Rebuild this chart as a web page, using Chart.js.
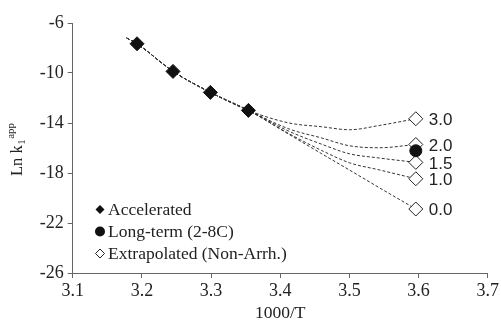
<!DOCTYPE html>
<html>
<head>
<meta charset="utf-8">
<script src="https://cdn.jsdelivr.net/npm/chart.js@4/dist/chart.umd.min.js"></script>
<style>
  html, body { margin: 0; padding: 0; background: #fff; }
  #wrap { width: 501px; height: 325px; }
</style>
</head>
<body>
<div id="wrap"><canvas id="chart"></canvas></div>
<script>
const xTicks = [3.1, 3.2, 3.3, 3.4, 3.5, 3.6, 3.7];
const yTicks = [-26, -22, -18, -14, -10, -6];

// accelerated study (1000/T vs ln k)
const accelX = [3.193, 3.245, 3.299, 3.354];
const accelY = [-7.66, -9.87, -11.55, -12.99];

// long-term 2-8C result
const longTermX = [3.596];
const longTermY = [-16.22];

// extrapolated values at 5C, one per curvature term
const curvature = ['3.0', '2.0', '1.5', '1.0', '0.0'];
const extrapX = 3.596;
const extrapY = [-13.66, -15.72, -17.15, -18.46, -20.88];

// fitted curves
const fitX = [3.178, 3.193, 3.245, 3.299, 3.354, 3.413, 3.46, 3.5, 3.543, 3.596];
const fit30 = [-7.2, -7.66, -9.87, -11.55, -12.99, -14.0, -14.3, -14.54, -14.2, -13.66];
const fit20 = [-7.2, -7.66, -9.87, -11.55, -12.99, -14.48, -15.2, -15.82, -15.98, -15.72];
const fit15 = [-7.2, -7.66, -9.87, -11.55, -12.99, -14.67, -15.7, -16.46, -16.8, -17.15];
const fit10 = [-7.2, -7.66, -9.87, -11.55, -12.99, -14.86, -16.2, -17.18, -17.75, -18.46];
const fit00 = [-7.2, -7.66, -9.87, -11.55, -12.99, -14.92, -16.46, -17.76, -19.17, -20.88];

const legendLabels = ['Accelerated', 'Long-term (2-8C)', 'Extrapolated (Non-Arrh.)'];

const serif = '"Liberation Serif", "Times New Roman", serif';
const sans = '"Liberation Sans", Arial, sans-serif';

const toPoints = (xs, ys) => xs.map((v, i) => ({ x: v, y: ys[i] }));

const curveSet = (ys) => ({
  data: toPoints(fitX, ys),
  showLine: true,
  borderColor: '#333',
  borderWidth: 1,
  borderDash: [3, 2],
  pointRadius: 0,
  cubicInterpolationMode: 'monotone',
  order: 4
});

const extras = {
  id: 'extras',
  afterDatasetsDraw(chart) {
    const { ctx, scales: { x, y } } = chart;
    ctx.save();

    // curvature labels beside the open diamonds
    ctx.fillStyle = '#222';
    ctx.font = '17px ' + sans;
    ctx.textBaseline = 'middle';
    ctx.textAlign = 'left';
    curvature.forEach((c, i) => {
      ctx.fillText(c, x.getPixelForValue(extrapX) + 13, y.getPixelForValue(extrapY[i]) + 1.5);
    });

    // legend
    ctx.font = '17.5px ' + serif;
    const lx = 100, ly = [209.5, 231.5, 253.5];
    ctx.fillStyle = '#111';
    ctx.beginPath();
    ctx.moveTo(lx - 4.5, ly[0]); ctx.lineTo(lx, ly[0] - 4.5);
    ctx.lineTo(lx + 4.5, ly[0]); ctx.lineTo(lx, ly[0] + 4.5);
    ctx.closePath(); ctx.fill();
    ctx.beginPath();
    ctx.arc(lx, ly[1], 5, 0, Math.PI * 2);
    ctx.fill();
    ctx.strokeStyle = '#222';
    ctx.lineWidth = 1;
    ctx.beginPath();
    ctx.moveTo(lx - 4.5, ly[2]); ctx.lineTo(lx, ly[2] - 4.5);
    ctx.lineTo(lx + 4.5, ly[2]); ctx.lineTo(lx, ly[2] + 4.5);
    ctx.closePath(); ctx.stroke();
    ctx.fillStyle = '#222';
    legendLabels.forEach((t, i) => ctx.fillText(t, lx + 8, ly[i] + 1));

    // y axis title: Ln k_1^app
    ctx.translate(22, 176);
    ctx.rotate(-Math.PI / 2);
    ctx.textBaseline = 'alphabetic';
    ctx.font = '16.5px ' + serif;
    ctx.fillText('Ln k', 0, 0);
    let w = ctx.measureText('Ln k').width;
    ctx.font = '11px ' + serif;
    ctx.fillText('1', w + 0.5, 3);
    w += ctx.measureText('1').width + 1;
    ctx.fillText('app', w, -8);
    ctx.restore();
  }
};

new Chart(document.getElementById('chart'), {
  type: 'scatter',
  data: {
    datasets: [
      {
        label: legendLabels[1],
        data: toPoints(longTermX, longTermY),
        pointStyle: 'circle',
        pointRadius: 6,
        backgroundColor: '#111',
        borderColor: '#111',
        borderWidth: 1,
        order: 1
      },
      {
        label: legendLabels[0],
        data: toPoints(accelX, accelY),
        pointStyle: 'rectRot',
        pointRadius: 7,
        backgroundColor: '#111',
        borderColor: '#111',
        borderWidth: 1,
        order: 2
      },
      {
        label: legendLabels[2],
        data: extrapY.map(v => ({ x: extrapX, y: v })),
        pointStyle: 'rectRot',
        pointRadius: 7,
        backgroundColor: '#fff',
        borderColor: '#222',
        borderWidth: 1,
        order: 3
      },
      curveSet(fit30),
      curveSet(fit20),
      curveSet(fit15),
      curveSet(fit10),
      curveSet(fit00)
    ]
  },
  options: {
    responsive: true,
    maintainAspectRatio: false,
    animation: false,
    layout: { padding: { left: 0, right: 12, top: 23, bottom: 0 } },
    plugins: { legend: { display: false }, tooltip: { enabled: false } },
    scales: {
      x: {
        type: 'linear',
        min: 3.1,
        max: 3.7,
        afterBuildTicks: (s) => { s.ticks = xTicks.map(v => ({ value: v })); },
        afterFit: (s) => { s.height = 52; },
        ticks: {
          color: '#222',
          font: { family: serif, size: 18 },
          padding: 2,
          callback: (v) => v.toFixed(1)
        },
        grid: { drawOnChartArea: false, drawTicks: true, tickLength: 5, color: '#666' },
        border: { color: '#666', width: 1 },
        title: {
          display: true,
          text: '1000/T',
          color: '#222',
          font: { family: serif, size: 17.5 },
          padding: { top: 0, bottom: 1 }
        }
      },
      y: {
        type: 'linear',
        min: -26,
        max: -6,
        afterBuildTicks: (s) => { s.ticks = yTicks.map(v => ({ value: v })); },
        afterFit: (s) => { s.width = 72.7; },
        ticks: {
          color: '#222',
          font: { family: serif, size: 18 },
          padding: 4
        },
        grid: { drawOnChartArea: false, drawTicks: true, tickLength: 5, color: '#666' },
        border: { color: '#666', width: 1 }
      }
    }
  },
  plugins: [extras]
});
</script>
</body>
</html>
